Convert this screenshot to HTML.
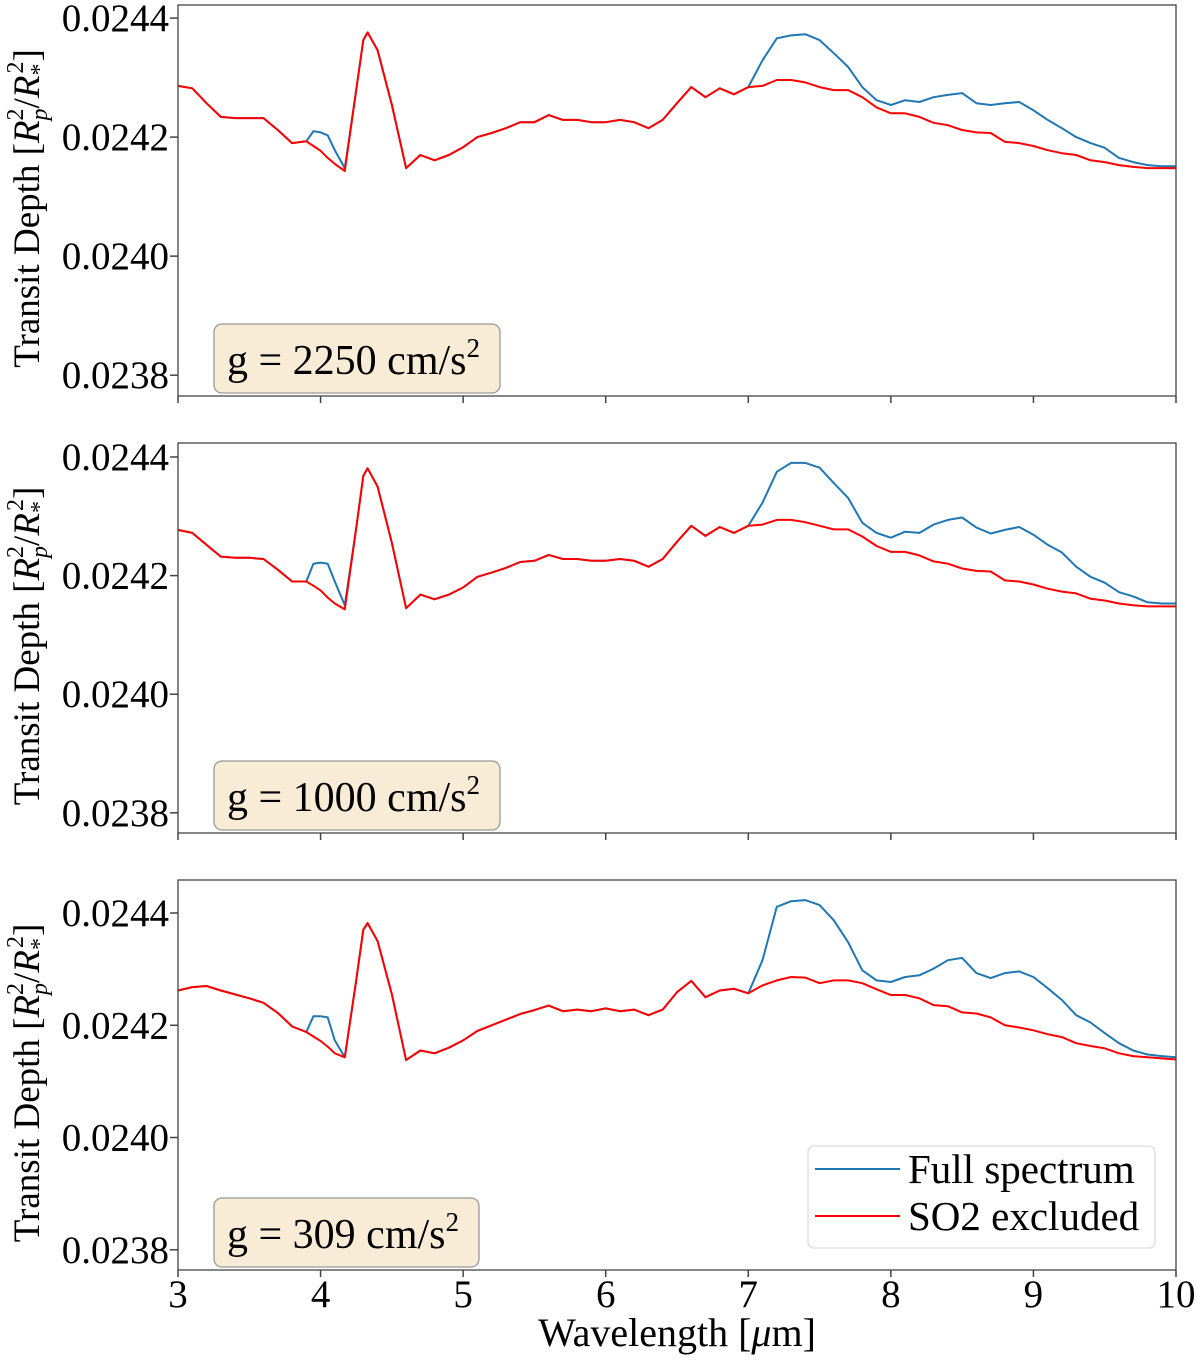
<!DOCTYPE html>
<html><head><meta charset="utf-8"><style>
html,body{margin:0;padding:0;background:#fff;}
svg{display:block;font-family:"Liberation Serif","DejaVu Serif",serif;}
</style></head><body>
<svg id="chart" width="1200" height="1361" viewBox="0 0 1200 1361" xmlns="http://www.w3.org/2000/svg"></svg>
<script>
// wavelengths in micron
const wavelengths = [3.0,3.1,3.2,3.3,3.4,3.5,3.6,3.7,3.8,3.9,3.95,4.0,4.05,4.1,4.17,4.25,4.3,4.33,4.4,4.5,4.6,
4.7,4.8,4.9,5.0,5.1,5.2,5.3,5.4,5.5,5.6,5.7,5.8,5.9,6.0,6.1,6.2,6.3,6.4,6.5,6.6,6.7,6.8,6.9,
7.0,7.1,7.2,7.3,7.4,7.5,7.6,7.7,7.8,7.9,8.0,8.1,8.2,8.3,8.4,8.5,8.6,8.7,8.8,8.9,9.0,9.1,9.2,9.3,9.4,9.5,9.6,9.7,9.8,9.9,10.0];
// transit depth in ppm
const so2Excluded1 = [24286,24282,24257,24234,24232,24232,24232,24212,24190,24193,24185,24177,24165,24155,24143,24279,24363,24376,24346,24254,24148,
24170,24161,24170,24183,24200,24207,24215,24225,24225,24237,24229,24229,24225,24225,24229,24225,24215,24229,24257,24284,24267,24282,24272,
24284,24286,24296,24296,24292,24284,24279,24279,24267,24250,24240,24240,24234,24224,24220,24212,24208,24207,24192,24190,24185,24178,24173,24170,24161,24158,24153,24150,24148,24148,24148];
const full1 = [24286,24282,24257,24234,24232,24232,24232,24212,24190,24193,24210,24208,24203,24178,24148,24279,24363,24376,24346,24254,24148,
24170,24161,24170,24183,24200,24207,24215,24225,24225,24237,24229,24229,24225,24225,24229,24225,24215,24229,24257,24284,24267,24282,24272,
24284,24329,24366,24371,24373,24363,24341,24318,24284,24262,24254,24262,24259,24267,24271,24274,24257,24254,24257,24259,24245,24229,24215,24200,24190,24182,24165,24158,24153,24151,24151];
const so2Excluded2 = [24277,24272,24252,24232,24230,24230,24228,24210,24190,24190,24183,24175,24163,24153,24143,24280,24368,24381,24350,24255,24145,
24168,24160,24168,24180,24198,24205,24213,24223,24225,24235,24228,24228,24225,24225,24228,24225,24215,24228,24257,24284,24267,24282,24272,
24284,24286,24294,24294,24290,24284,24278,24278,24266,24250,24240,24240,24234,24224,24220,24212,24208,24207,24192,24190,24185,24178,24173,24170,24161,24158,24153,24150,24148,24148,24148];
const full2 = [24277,24272,24252,24232,24230,24230,24228,24210,24190,24190,24220,24222,24220,24190,24150,24280,24368,24381,24350,24255,24145,
24168,24160,24168,24180,24198,24205,24213,24223,24225,24235,24228,24228,24225,24225,24228,24225,24215,24228,24257,24284,24267,24282,24272,
24284,24323,24375,24390,24390,24382,24356,24331,24289,24272,24264,24274,24272,24286,24294,24298,24281,24271,24277,24282,24269,24252,24239,24215,24198,24188,24172,24165,24155,24153,24153];
const so2Excluded3 = [24262,24268,24270,24262,24255,24248,24240,24222,24198,24188,24180,24172,24162,24150,24143,24280,24370,24382,24350,24255,24138,
24155,24150,24160,24173,24190,24200,24210,24220,24227,24235,24225,24228,24225,24230,24225,24228,24218,24228,24259,24279,24250,24262,24265,
24257,24271,24280,24286,24285,24275,24280,24280,24275,24264,24254,24254,24248,24236,24234,24223,24221,24214,24200,24196,24191,24184,24179,24168,24163,24159,24150,24145,24143,24141,24139];
const full3 = [24262,24268,24270,24262,24255,24248,24240,24222,24198,24188,24216,24216,24214,24173,24143,24280,24370,24382,24350,24255,24138,
24155,24150,24160,24173,24190,24200,24210,24220,24227,24235,24225,24228,24225,24230,24225,24228,24218,24228,24259,24279,24250,24262,24265,
24257,24316,24411,24421,24423,24414,24387,24348,24298,24280,24277,24286,24289,24301,24316,24320,24293,24284,24293,24296,24286,24266,24245,24218,24205,24186,24168,24155,24148,24145,24143];
const gravityLabels = ["2250","1000","309"];
const yTickValues = [24400,24200,24000,23800];
const yTickLabels = ["0.0244","0.0242","0.0240","0.0238"];
const xTickValues = [3,4,5,6,7,8,9,10];
const xTickLabels = ["3","4","5","6","7","8","9","10"];

const NS="http://www.w3.org/2000/svg";
const svg=document.getElementById('chart');
function mk(tag,attrs,parent){const e=document.createElementNS(NS,tag);for(const k in attrs)e.setAttribute(k,attrs[k]);(parent||svg).appendChild(e);return e;}
const X0=178,X1=1176;
function xs(w){return X0+(w-3)/(10-3)*(X1-X0);}
const panels=[
 {top:5,bot:396,ymax:24422,ymin:23765,full:full1,red:so2Excluded1},
 {top:443,bot:833,ymax:24423.6,ymin:23766,full:full2,red:so2Excluded2},
 {top:880,bot:1270,ymax:24458.8,ymin:23764,full:full3,red:so2Excluded3}
];
panels.forEach((p,i)=>{
  const ys=v=>p.bot-(v-p.ymin)/(p.ymax-p.ymin)*(p.bot-p.top);
  const g=mk('g',{});
  
  
  yTickValues.forEach((v,j)=>{
    const y=ys(v);
    const t=mk('line',{x1:X0-8,x2:X0,y1:y,y2:y,stroke:'#444','stroke-width':1.5},g);
    
    
    const l=mk('text',{x:X0-9,y:y+13,'text-anchor':'end','font-size':39,fill:'#000'},g);
    l.textContent=yTickLabels[j];
    
    
  });
  xTickValues.forEach((v,j)=>{
    const x=xs(v);
    const t=mk('line',{x1:x,x2:x,y1:p.bot,y2:p.bot+7,stroke:'#444','stroke-width':1.5},g);
    
    
    if(i===2){
      const l=mk('text',{x:x,y:p.bot+37,'text-anchor':'middle','font-size':39,fill:'#000'},g);
      l.textContent=xTickLabels[j];
      
      
    }
  });
  const cy=(p.top+p.bot)/2+8;
  const yt=mk('text',{transform:`translate(39,${cy}) rotate(-90)`,'text-anchor':'middle','font-size':37,fill:'#000'},g);
  yt.innerHTML='Transit Depth [<tspan font-style="italic">R</tspan><tspan font-size="24" dy="8" font-style="italic">p</tspan><tspan font-size="24" dx="-12" dy="-24">2</tspan><tspan dy="16">/</tspan><tspan font-style="italic">R</tspan><tspan font-size="24" dy="8">*</tspan><tspan font-size="24" dx="-10" dy="-24">2</tspan><tspan dy="16">]</tspan>';
  
  
  const path=arr=>arr.map((v,k)=>(k?'L':'M')+xs(wavelengths[k]).toFixed(1)+','+ys(v).toFixed(1)).join(' ');
  const b=mk('path',{d:path(p.full),fill:'none',stroke:'#1f77b4','stroke-width':2,'stroke-linejoin':'round'},g);
  
  
  const r=mk('path',{d:path(p.red),fill:'none',stroke:'#ff0000','stroke-width':2,'stroke-linejoin':'round'},g);
  
  
  const f=mk('rect',{x:X0,y:p.top,width:X1-X0,height:p.bot-p.top,fill:'none',stroke:'#444','stroke-width':1.3},g);
  
  
  const bw=i===2?265:286;
  const ag=mk('g',{},g);
  
  
  mk('rect',{x:214,y:p.bot-72,width:bw,height:69,rx:8,fill:'#f8ecd6',stroke:'#999','stroke-width':1.3},ag);
  const at=mk('text',{x:227,y:p.bot-22,'font-size':42,fill:'#000'},ag);
  at.innerHTML='g = '+gravityLabels[i]+' cm/s<tspan font-size="27" dy="-17">2</tspan>';
});
const xt=mk('text',{x:677,y:1346,'text-anchor':'middle','font-size':40,fill:'#000'});
xt.innerHTML='Wavelength [<tspan font-style="italic">μ</tspan>m]';


const lg=mk('g',{});


mk('rect',{x:808,y:1146,width:347,height:102,rx:6,fill:'#fff',stroke:'#ddd','stroke-width':1.3},lg);
const e1=mk('g',{},lg);


mk('line',{x1:815,x2:900,y1:1169,y2:1169,stroke:'#1f77b4','stroke-width':2},e1);
const t1=mk('text',{x:908,y:1183,'font-size':41,fill:'#000'},e1);t1.textContent='Full spectrum';
const e2=mk('g',{},lg);


mk('line',{x1:815,x2:900,y1:1216,y2:1216,stroke:'#ff0000','stroke-width':2},e2);
const t2=mk('text',{x:908,y:1230,'font-size':41,fill:'#000'},e2);t2.textContent='SO2 excluded';
</script>
</body></html>
